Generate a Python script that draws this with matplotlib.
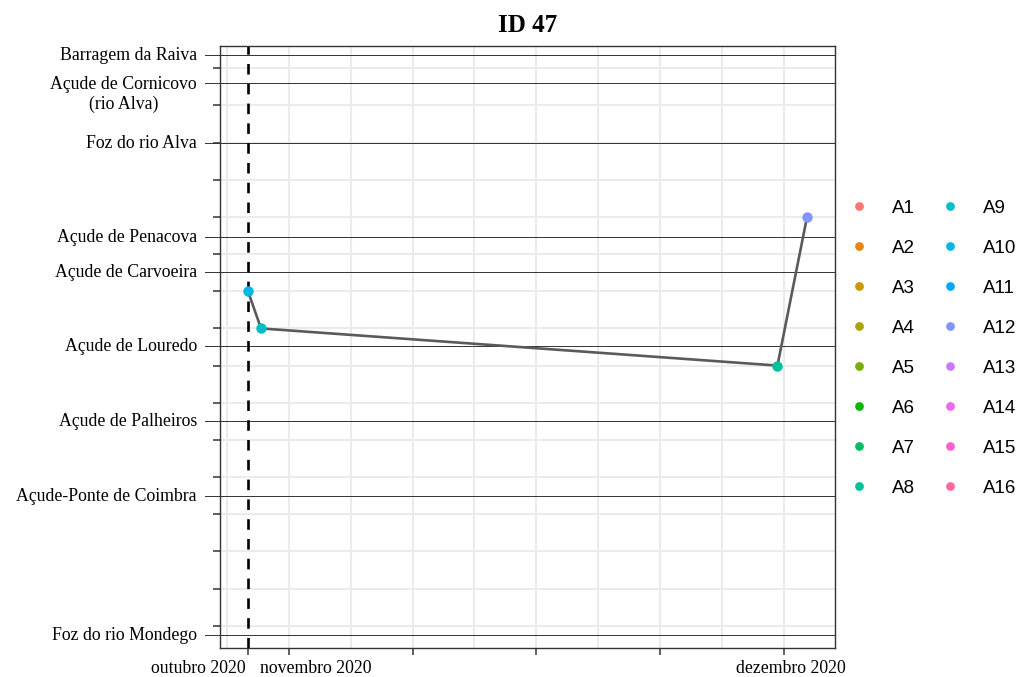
import numpy as np
import pandas as pd
import matplotlib
matplotlib.use("Agg")
import matplotlib.pyplot as plt
import matplotlib.dates as mdates
from matplotlib.lines import Line2D

TITLE = "ID 47"

# landmarks along the river (km from the mouth)
sites = ["Barragem da Raiva", "Açude de Cornicovo\n(rio Alva)", "Foz do rio Alva",
         "Açude de Penacova", "Açude de Carvoeira", "Açude de Louredo",
         "Açude de Palheiros", "Açude-Ponte de Coimbra", "Foz do rio Mondego"]
site_km = [76.8, 73.0, 65.0, 52.3, 47.6, 37.6, 27.5, 17.5, -1.2]

# detections of the tagged fish
det_time = ["2020-10-29 13:00", "2020-10-30 08:00", "2020-11-30 14:00", "2020-12-02 09:00"]
det_km = [45, 40, 35, 55]
det_antenna = ["A10", "A9", "A8", "A12"]

release = "2020-10-29 13:00"

antennas = [f"A{i}" for i in range(1, 17)]
antenna_colors = ["#F8766D", "#E68613", "#CD9600", "#ABA300", "#7CAE00", "#0CB702",
                  "#00BE67", "#00C19A", "#00BFC4", "#00B8E7", "#00A9FF", "#8494FF",
                  "#C77CFF", "#ED68ED", "#FF61CC", "#FF68A1"]

x_labels = ["outubro 2020", "novembro 2020", "dezembro 2020"]
x_label_at = [release, "2020-11-01", "2020-12-01"]

SERIF = "Liberation Serif"
SANS = "Liberation Sans"
GRID = "#EBEBEB"
DARK = "#333333"


def to_num(s):
    return mdates.date2num(pd.to_datetime(s))


def main():
    fig = plt.figure(figsize=(10.25, 6.77), dpi=100)
    ax = fig.add_axes([220 / 1025, 1 - 648 / 677, 615 / 1025, 602 / 677])

    t = to_num(det_time)
    col = dict(zip(antennas, antenna_colors))

    # x scale: ggplot-like 5% expansion of the data range
    span = t.max() - t.min()
    ax.set_xlim(t.min() - 0.05 * span, t.max() + 0.05 * span)
    ax.set_ylim(-3.0, 78.0)

    # grid
    nov1, dec1 = to_num("2020-11-01"), to_num("2020-12-01")
    step = (dec1 - nov1) / 8
    for k in range(-1, 9):
        ax.axvline(nov1 + k * step, color=GRID, lw=1.5, zorder=0)
    yt = np.arange(0, 80, 5)
    for y in yt:
        ax.axhline(y, color=GRID, lw=1.5, zorder=0)

    # landmarks
    tr = ax.get_yaxis_transform()
    for name, km in zip(sites, site_km):
        ax.plot([-15 / 615, 1], [km, km], transform=tr, color=DARK, lw=0.7,
                clip_on=False, zorder=1)
        # baseline of the first line sits just under the landmark line
        n_extra = name.count("\n")
        ax.annotate(name, xy=(0, km), xycoords=tr, xytext=(-23, -5 - 21 * n_extra),
                    textcoords="offset pixels", ha="right", va="baseline",
                    multialignment="center", fontsize=12.8, family=SERIF)

    # release
    r = to_num(release)
    ax.axvline(r, color="black", lw=1.9, ls=(0, (4, 3.5)), zorder=2)

    # track
    ax.plot(t, det_km, color="#5A5A5A", lw=1.9, zorder=3)
    for ti, yi, a in zip(t, det_km, det_antenna):
        ax.plot(ti, yi, "o", ms=7.5, color=col[a], mec="none", zorder=4)

    # ticks
    xt = list(np.linspace(nov1, dec1, 5)) + [r]
    ax.set_xticks(xt)
    ax.set_xticklabels([])
    ax.set_yticks(yt)
    ax.set_yticklabels([])
    ax.tick_params(length=5, width=1.1, color=DARK)
    xtr = ax.get_xaxis_transform()
    offsets = [-50, 27, 7]
    for lab, at, off in zip(x_labels, x_label_at, offsets):
        ax.annotate(lab, xy=(to_num(at), 0), xycoords=xtr, xytext=(off, -25),
                    textcoords="offset pixels", ha="center", va="baseline",
                    fontsize=12.8, family=SERIF)

    for s in ax.spines.values():
        s.set_color(DARK)
        s.set_linewidth(1.0)

    fig.text((220 + 835) / 2 / 1025, 1 - 31.7 / 677, TITLE, ha="center",
             va="baseline", fontsize=18, fontweight="bold", family=SERIF)

    handles = [Line2D([], [], marker="o", ls="", color=c, ms=6.3, mec="none")
               for c in antenna_colors]
    fig.legend(handles, antennas, loc="upper left", ncol=2, frameon=False,
               bbox_to_anchor=(849.6 / 1025, 1 - 199.5 / 677),
               prop={"family": SANS, "size": 13.5}, borderpad=0,
               borderaxespad=0, handlelength=1.0, handletextpad=1.24,
               columnspacing=1.39, labelspacing=1.22)

    fig.savefig("out.png", dpi=100)


if __name__ == "__main__":
    main()
